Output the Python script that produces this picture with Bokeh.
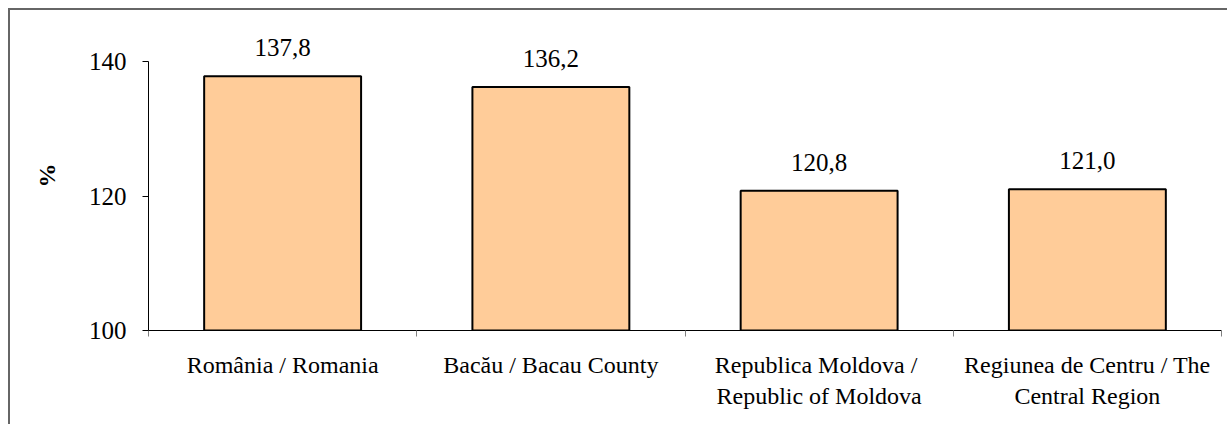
from bokeh.plotting import figure
from bokeh.models import Range1d, FixedTicker, ColumnDataSource, LabelSet
from bokeh.embed import file_html
from bokeh.resources import INLINE

categories = ["România / Romania", "Bacău / Bacau County",
              "Republica  Moldova /\nRepublic of Moldova",
              "Regiunea de Centru / The\nCentral Region"]
values = [137.8, 136.2, 120.8, 121.0]
y_ticks = [100, 120, 140]
y_label = "%"

FONT = "Liberation Serif"

xpos = [i + 0.5 for i in range(len(categories))]
labels = [f"{v:.1f}".replace(".", ",") for v in values]
src = ColumnDataSource(dict(x=xpos, top=values, label=labels))

p = figure(width=1219, height=416, output_backend="svg", toolbar_location=None,
           x_range=Range1d(0, len(categories)), y_range=Range1d(100, 146.1),
           min_border_left=138, min_border_right=8, min_border_top=10, min_border_bottom=96)
p.styles = {"margin-left": "8px", "margin-top": "8px",
            "border-left": "2px solid #666666", "border-top": "2px solid #666666"}
p.outline_line_color = None
p.xgrid.grid_line_color = None
p.ygrid.grid_line_color = None
p.background_fill_color = "white"
p.border_fill_color = "white"

p.vbar(x="x", top="top", bottom=100, width=0.585, source=src,
       fill_color="#FFCC99", line_color="black", line_width=2)

p.add_layout(LabelSet(x="x", y="top", text="label", source=src, y_offset=20,
                      text_align="center", text_baseline="alphabetic",
                      text_font=FONT, text_font_size="25px", text_color="black"))

# x axis
xa = p.xaxis[0]
xa.ticker = FixedTicker(ticks=xpos, minor_ticks=list(range(len(categories) + 1)))
xa.major_label_overrides = {x: c for x, c in zip(xpos, categories)}
xa.major_tick_out = 0
xa.major_tick_in = 0
xa.minor_tick_out = 6
xa.minor_tick_in = 0
xa.minor_tick_line_color = "#808080"
xa.axis_line_color = "black"
xa.major_label_standoff = 15
xa.major_label_text_font = FONT
xa.major_label_text_font_size = "24px"
xa.major_label_text_color = "black"

# y axis
ya = p.yaxis[0]
ya.ticker = FixedTicker(ticks=y_ticks)
ya.bounds = (100, 140)
ya.major_tick_out = 6
ya.major_tick_in = 0
ya.minor_tick_out = 0
ya.minor_tick_in = 0
ya.major_tick_line_color = "black"
ya.axis_line_color = "black"
ya.major_label_standoff = 16
ya.major_label_text_font = FONT
ya.major_label_text_font_size = "25px"
ya.major_label_text_color = "black"
ya.axis_label = y_label
ya.axis_label_text_font = FONT
ya.axis_label_text_font_style = "bold"
ya.axis_label_text_font_size = "24px"
ya.axis_label_text_color = "black"
ya.axis_label_standoff = 26

open("out.html", "w").write(file_html(p, INLINE))
